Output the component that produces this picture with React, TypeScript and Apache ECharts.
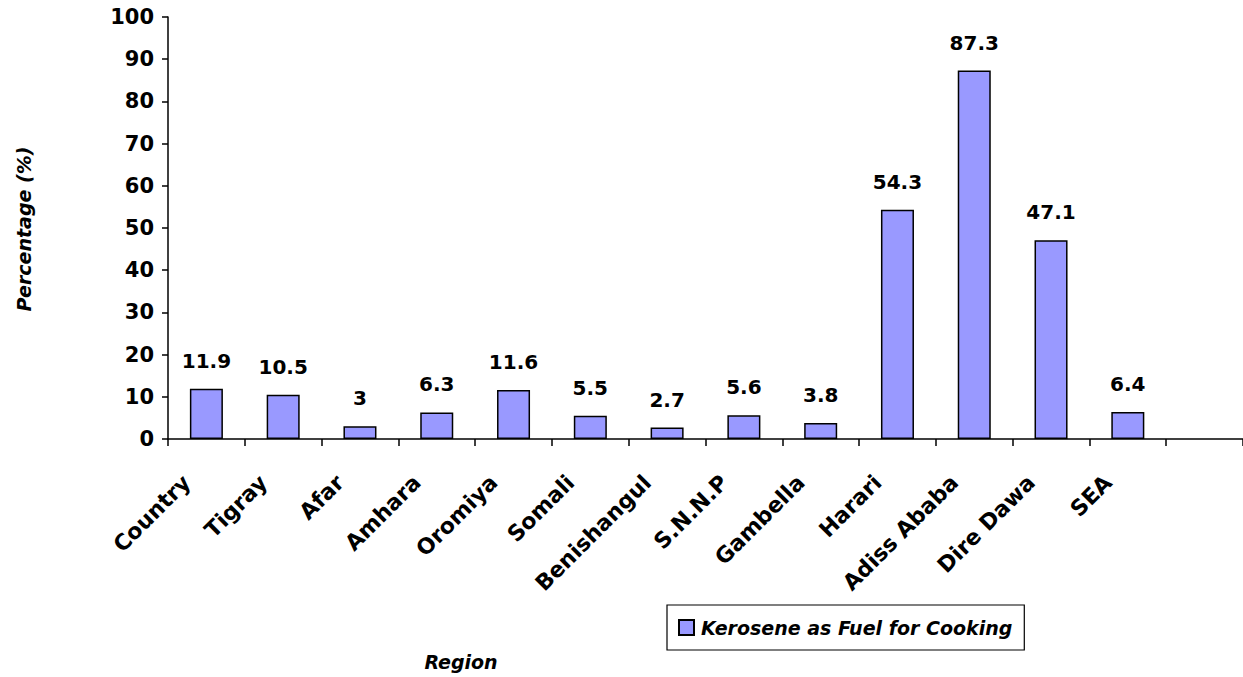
import React, { useEffect, useRef } from "react";
import * as echarts from "echarts";

// Regions along the x axis (last slot left empty, as in the source layout)
const regions = [
  "Country",
  "Tigray",
  "Afar",
  "Amhara",
  "Oromiya",
  "Somali",
  "Benishangul",
  "S.N.N.P",
  "Gambella",
  "Harari",
  "Adiss Ababa",
  "Dire Dawa",
  "SEA",
  "",
];

// Share of households using kerosene for cooking (%)
const keroseneShare: (number | null)[] = [
  11.9, 10.5, 3, 6.3, 11.6, 5.5, 2.7, 5.6, 3.8, 54.3, 87.3, 47.1, 6.4, null,
];

const seriesName = "Kerosene as Fuel for Cooking";
const FONT = "'DejaVu Sans', 'Open Sans', sans-serif";

export default function App() {
  const ref = useRef<HTMLDivElement>(null);

  useEffect(() => {
    document.body.style.margin = "0";
    if (!ref.current) return;
    const chart = echarts.init(ref.current, undefined, { renderer: "svg" });
    chart.setOption({
      animation: false,
      backgroundColor: "#ffffff",
      textStyle: { fontFamily: FONT },
      grid: { left: 168, right: 0, top: 17, bottom: 238, containLabel: false },
      legend: {
        data: [seriesName],
        left: 667,
        top: 605,
        orient: "horizontal",
        icon: "rect",
        itemWidth: 15,
        itemHeight: 15,
        itemGap: 8,
        padding: [13, 12, 13, 11],
        borderColor: "#000",
        borderWidth: 1.2,
        backgroundColor: "#fff",
        textStyle: {
          fontFamily: FONT,
          fontSize: 19,
          fontWeight: "bold",
          fontStyle: "italic",
          color: "#000",
          padding: [0, 0, 0, 2],
        },
      },
      xAxis: {
        type: "category",
        data: regions,
        boundaryGap: true,
        axisLine: { lineStyle: { color: "#000", width: 1.5 } },
        axisTick: { show: true, alignWithLabel: false, length: 7, lineStyle: { color: "#000", width: 1.5 } },
        axisLabel: {
          interval: 0,
          rotate: 45,
          margin: 20,
          padding: [0, 28, 0, 0],
          fontFamily: FONT,
          fontSize: 22,
          fontWeight: "bold",
          color: "#000",
        },
      },
      yAxis: {
        type: "value",
        min: 0,
        max: 100,
        interval: 10,
        splitLine: { show: false },
        axisLine: { show: true, lineStyle: { color: "#000", width: 1.5 } },
        axisTick: { show: true, length: 6, lineStyle: { color: "#000", width: 1.5 } },
        axisLabel: {
          margin: 14,
          fontFamily: FONT,
          fontSize: 21,
          fontWeight: "bold",
          color: "#000",
        },
      },
      series: [
        {
          name: seriesName,
          type: "bar",
          data: keroseneShare,
          barWidth: "43%",
          itemStyle: { color: "#9999ff", borderColor: "#000", borderWidth: 1.5 },
          label: {
            show: true,
            position: "top",
            distance: 18,
            fontFamily: FONT,
            fontSize: 20,
            fontWeight: "bold",
            color: "#000",
          },
        },
      ],
      graphic: [
        {
          type: "text",
          x: 24,
          y: 229,
          rotation: Math.PI / 2,
          style: {
            text: "Percentage (%)",
            fontFamily: FONT,
            fontSize: 19,
            fontWeight: "bold",
            fontStyle: "italic",
            fill: "#000",
            align: "center",
            verticalAlign: "middle",
          },
        },
        {
          type: "text",
          x: 461,
          y: 662,
          style: {
            text: "Region",
            fontFamily: FONT,
            fontSize: 19,
            fontWeight: "bold",
            fontStyle: "italic",
            fill: "#000",
            align: "center",
            verticalAlign: "middle",
          },
        },
      ],
    });
    return () => chart.dispose();
  }, []);

  return <div ref={ref} style={{ width: 1243, height: 677 }} />;
}
